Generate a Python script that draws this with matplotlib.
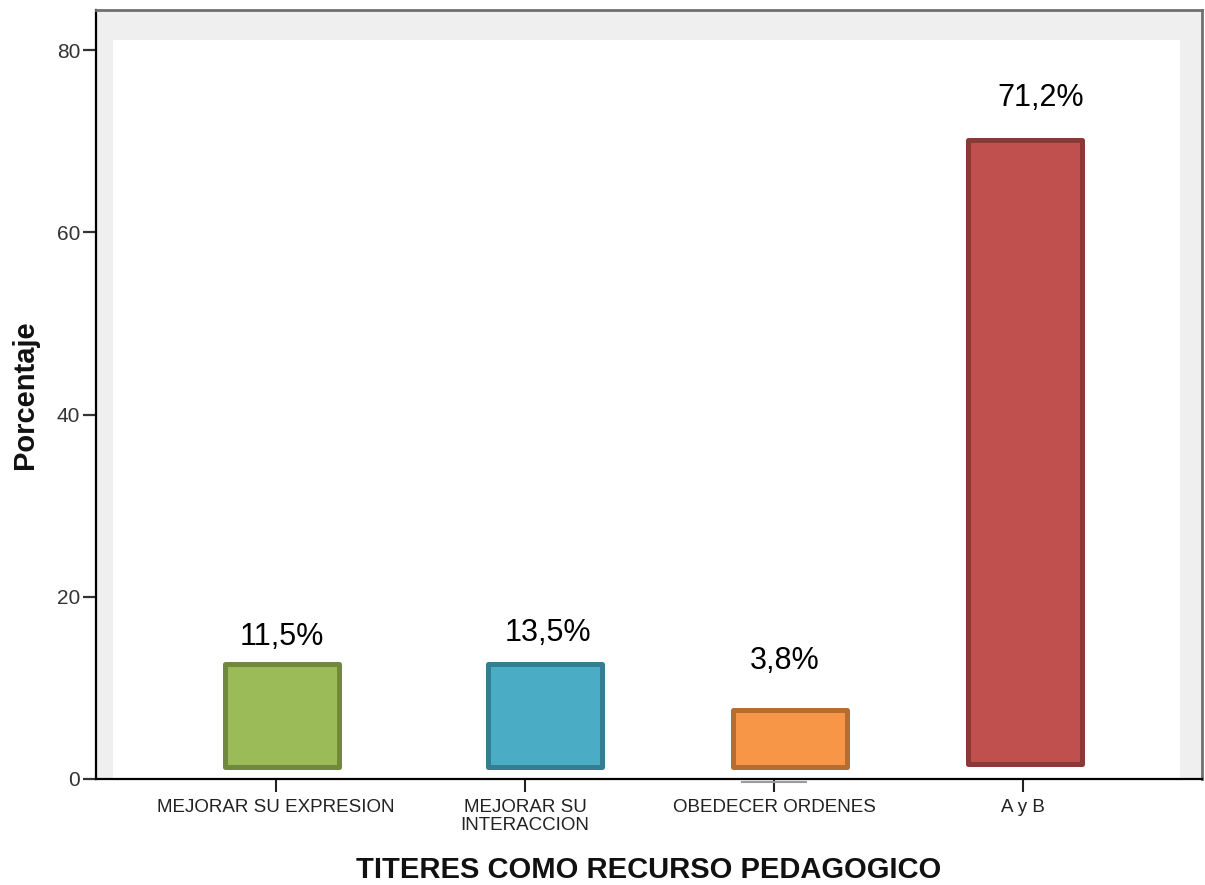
import matplotlib
matplotlib.use("Agg")
import matplotlib.pyplot as plt
from matplotlib.patches import Rectangle

plt.rcParams['font.family'] = ['Liberation Sans', 'DejaVu Sans']

# ---- data ----
categories = ["MEJORAR SU EXPRESION", "MEJORAR SU\nINTERACCION", "OBEDECER ORDENES", "A y B"]
percent_labels = ["11,5%", "13,5%", "3,8%", "71,2%"]
bar_bottom = [1.3, 1.3, 1.3, 1.7]
bar_top = [12.6, 12.6, 7.6, 70.1]
y_ticks = [0, 20, 40, 60, 80]
x_title = "TITERES COMO RECURSO PEDAGOGICO"
y_title = "Porcentaje"

# ---- style ----
fill_colors = ["#9bbb59", "#4bacc6", "#f79646", "#c0504d"]
edge_colors = ["#71893f", "#357d91", "#b66d31", "#8c3836"]
bar_shift = [0.024, 0.080, 0.064, 0.008]
label_dx_px = [0, 3, -5, 16]
label_dy_px = [30, 34, 51, 45]

W, H = 1205, 885
fig = plt.figure(figsize=(W / 100, H / 100), dpi=100)
left, right, top, bottom = 96, 1202, 10, 779
ax = fig.add_axes([left / W, (H - bottom) / H, (right - left) / W, (bottom - top) / H])
ax.set_facecolor("#efefef")

ax.set_xlim(-0.723, 3.719)
ax.set_ylim(0, 84.4)

# inner white plotting area
ax.add_patch(Rectangle((17 / 1106, 0), (1180 - 113) / 1106, (779 - 40) / 769,
                       transform=ax.transAxes, facecolor="white", edgecolor="none", zorder=0.5))

x = list(range(len(categories)))
for i in x:
    xc = i + bar_shift[i]
    ax.bar(xc, bar_top[i] - bar_bottom[i], bottom=bar_bottom[i], width=0.455,
           color=fill_colors[i], edgecolor=edge_colors[i], linewidth=3.6,
           joinstyle="round", zorder=3)
    ax.annotate(percent_labels[i], xy=(xc, bar_top[i]),
                xytext=(label_dx_px[i] * 0.72, (label_dy_px[i] - 2.5) * 0.72),
                textcoords="offset points", ha="center", va="center",
                fontsize=22, color="black", zorder=4)

# small gray mark below the third category
ax.plot([2 - 0.13, 2 + 0.13], [-0.3, -0.3], color="#9a9a9a", lw=1.5,
        clip_on=False, zorder=2)

# spines
ax.spines["left"].set_color("black")
ax.spines["left"].set_linewidth(1.6)
ax.spines["bottom"].set_color("black")
ax.spines["bottom"].set_linewidth(1.6)
for s in ("top", "right"):
    ax.spines[s].set_color("#707070")
    ax.spines[s].set_linewidth(2.0)

ax.set_yticks(y_ticks)
ax.set_yticklabels([str(v) for v in y_ticks])
ax.tick_params(axis="y", direction="out", length=9.5, width=1.6, pad=2,
               labelsize=15, colors="#333333")
ax.set_xticks(x)
ax.set_xticklabels(categories)
ax.tick_params(axis="x", direction="out", length=9, width=1.5, pad=5.5,
               labelsize=13.5, colors="#222222")
for lab in ax.get_xticklabels():
    lab.set_linespacing(1.05)

ax.set_xlabel(x_title, fontsize=21, fontweight="bold", color="#111111", va="center")
ax.xaxis.set_label_coords(0.5, (779 - 870) / 769)
ax.set_ylabel(y_title, fontsize=21, fontweight="bold", color="#111111", va="center")
ax.yaxis.set_label_coords((25 - 96) / 1106, 0.5)

fig.savefig("out.png", dpi=100)
